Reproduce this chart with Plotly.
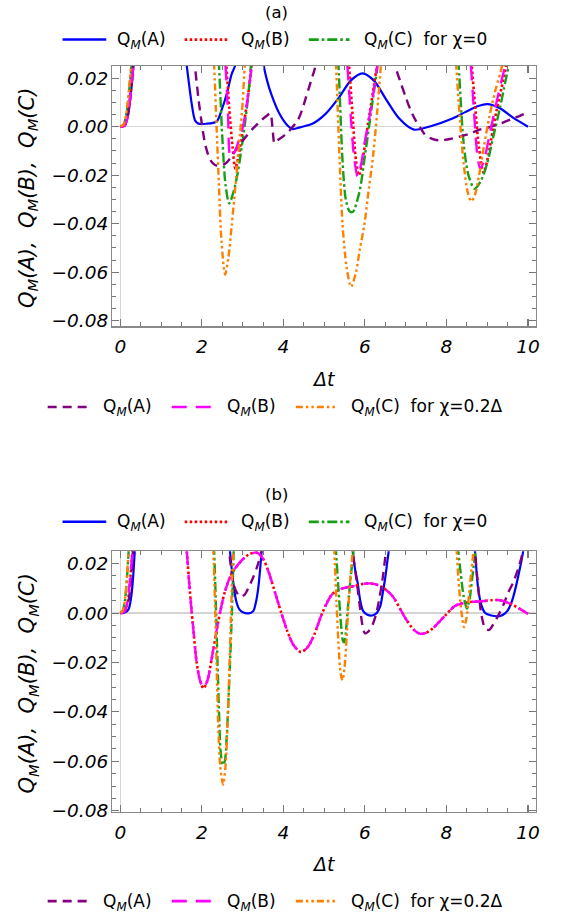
import plotly.graph_objects as go

# ---------------- data ----------------
x_ticks = [0, 2, 4, 6, 8, 10]
x_tick_text = ["0", "2", "4", "6", "8", "10"]
y_ticks = [-0.08, -0.06, -0.04, -0.02, 0.0, 0.02]
y_tick_text = ["\u22120.08", "\u22120.06", "\u22120.04", "\u22120.02", "0.00", "0.02"]

# ---- panel (a) ----
a_A0_t = [0, 0.1, 0.18, 0.26, 0.33, 0.37, None,
          1.55, 1.63, 1.75, 1.83, 1.91, 2.1, 2.36, 2.48, 2.61, 2.73, 2.81, 2.86, None,
          3.46, 3.52, 3.6, 3.7, 3.9, 4.1, 4.23, 4.4, 4.72, 5.04, 5.37, 5.65, 5.94, 6.22, 6.51,
          6.83, 7.2, 7.65, 8.13, 8.46, 8.78, 9.0, 9.31, 9.65, 10.0]
a_A0_q = [0, 0.0003, 0.004, 0.014, 0.027, 0.036, None,
          0.036, 0.025, 0.0095, 0.0027, 0.0013, 0.0012, 0.0021, 0.0067, 0.0135, 0.0217, 0.025, 0.034, None,
          0.035, 0.025, 0.019, 0.0135, 0.0054, 0.0005, -0.001, -0.0003, 0.0013, 0.0054, 0.0122, 0.019,
          0.022, 0.019, 0.0115, 0.0036, -0.0012, 0.0004, 0.0033, 0.006, 0.0085, 0.0093, 0.0076, 0.0035, 0.0]

a_B0_t = [0, 0.1, 0.18, 0.26, 0.33, 0.37, None,
          2.54, 2.6, 2.67, 2.75, 2.82, 2.9, 3.0, 3.1, 3.2, 3.25, None,
          5.55, 5.61, 5.7, 5.78, 5.85, 5.93, 6.02, 6.12, 6.22, 6.3, 6.35, None,
          8.56, 8.62, 8.7, 8.8, 8.91, 9.0, 9.1, 9.22, 9.35, 9.46, 9.5]
a_B0_q = [0, 0.0003, 0.0045, 0.015, 0.028, 0.036, None,
          0.035, 0.025, 0.008, -0.008, -0.0173, -0.012, -0.002, 0.009, 0.022, 0.031, None,
          0.035, 0.025, 0.004, -0.014, -0.020, -0.015, -0.005, 0.006, 0.017, 0.026, 0.034, None,
          0.035, 0.025, 0.009, -0.009, -0.019, -0.014, -0.005, 0.006, 0.016, 0.025, 0.033]

a_C0_t = [0, 0.08, 0.16, 0.24, 0.3, 0.33, None,
          2.38, 2.42, 2.5, 2.58, 2.67, 2.79, 2.89, 2.98, 3.07, 3.15, 3.2, 3.24, None,
          5.3, 5.35, 5.45, 5.53, 5.62, 5.7, 5.86, 6.0, 6.1, 6.2, 6.3, 6.35, None,
          8.26, 8.3, 8.42, 8.54, 8.69, 8.84, 8.99, 9.15, 9.31, 9.45, 9.52, 9.56]
a_C0_q = [0, 0.0008, 0.0065, 0.019, 0.03, 0.037, None,
          0.035, 0.025, -0.004, -0.024, -0.0316, -0.026, -0.018, -0.008, 0.003, 0.015, 0.025, 0.034, None,
          0.035, 0.025, -0.014, -0.030, -0.0348, -0.0352, -0.0273, -0.012, 0.0, 0.012, 0.024, 0.033, None,
          0.035, 0.025, -0.0066, -0.0201, -0.0256, -0.0225, -0.0156, -0.004, 0.0076, 0.019, 0.025, 0.033]

a_A02_t = [0, 0.1, 0.18, 0.26, 0.33, 0.37, None,
           1.78, 1.83, 1.92, 2.0, 2.08, 2.2, 2.32, 2.45, 2.58, 2.72, 2.88, 3.05, 3.25, 3.45, 3.6, 3.68,
           3.73, 3.78, 3.84, 3.95, 4.1, 4.23, 4.35, 4.45, 4.56, 4.68, 4.8, 4.84, None,
           6.7, 6.75, 6.88, 7.0, 7.12, 7.24, 7.36, 7.48, 7.65, 7.85, 8.05, 8.3, 8.55, 8.78, 9.0, 9.2,
           9.4, 9.6, 9.8, 10.0]
a_A02_q = [0, 0.0004, 0.0045, 0.015, 0.028, 0.036, None,
           0.035, 0.025, 0.011, 0.001, -0.0072, -0.0135, -0.0158, -0.016, -0.0152, -0.0125, -0.0085,
           -0.0048, -0.0008, 0.0025, 0.0046, 0.0055, 0.0, -0.0068, -0.0058, -0.0045, -0.0025, 0.0,
           0.0025, 0.0065, 0.0125, 0.019, 0.026, 0.034, None,
           0.035, 0.025, 0.018, 0.0122, 0.0068, 0.0027, -0.0005, -0.0034, -0.005, -0.0057, -0.0052,
           -0.0042, -0.003, -0.0014, -0.0004, 0.0005, 0.0018, 0.0032, 0.0045, 0.006]

a_B02_t = [0, 0.1, 0.18, 0.26, 0.33, 0.37, None,
           2.53, 2.58, 2.64, 2.7, 2.78, 2.86, 2.94, 3.02, 3.1, 3.2, 3.25, None,
           5.52, 5.57, 5.65, 5.73, 5.82, 5.9, 6.0, 6.1, 6.2, 6.3, 6.34, None,
           8.55, 8.6, 8.68, 8.76, 8.83, 8.92, 9.05, 9.2, 9.35, 9.45, 9.49]
a_B02_q = [0, 0.0003, 0.0045, 0.015, 0.028, 0.036, None,
           0.035, 0.025, 0.006, -0.0125, -0.011, -0.008, -0.004, 0.001, 0.009, 0.022, 0.031, None,
           0.035, 0.025, 0.005, -0.012, -0.0205, -0.016, -0.006, 0.003, 0.013, 0.025, 0.033, None,
           0.035, 0.025, 0.005, -0.012, -0.0175, -0.014, -0.004, 0.008, 0.019, 0.026, 0.033]

a_C02_t = [0, 0.08, 0.16, 0.23, 0.29, 0.32, None,
           2.26, 2.3, 2.36, 2.42, 2.48, 2.57, 2.65, 2.73, 2.82, 2.91, 3.0, 3.05, 3.09, None,
           5.25, 5.29, 5.37, 5.45, 5.55, 5.66, 5.78, 5.88, 5.98, 6.1, 6.2, 6.3, 6.39, 6.43, None,
           8.2, 8.24, 8.32, 8.42, 8.52, 8.61, 8.7, 8.8, 8.92, 9.05, 9.2, 9.36, 9.4]
a_C02_q = [0, 0.001, 0.007, 0.019, 0.03, 0.037, None,
           0.035, 0.025, 0.0, -0.025, -0.047, -0.061, -0.054, -0.041, -0.025, -0.008, 0.01, 0.025, 0.034, None,
           0.035, 0.025, -0.01, -0.04, -0.058, -0.066, -0.06, -0.05, -0.041, -0.025, -0.012, 0.006, 0.025, 0.033, None,
           0.035, 0.025, 0.005, -0.015, -0.027, -0.0308, -0.028, -0.02, -0.008, 0.004, 0.015, 0.025, 0.033]

# ---- panel (b) ----
b_A0_t = [0, 0.1, 0.2, 0.27, 0.32, 0.36, 0.39, None,
          2.64, 2.69, 2.77, 2.84, 2.92, 3.02, 3.15, 3.26, 3.32, 3.38, 3.43, 3.47, 3.5, None,
          5.65, 5.7, 5.76, 5.82, 5.88, 5.95, 6.06, 6.2, 6.3, 6.38, 6.44, 6.5, 6.55, 6.59, 6.62, None,
          8.65, 8.7, 8.77, 8.85, 8.95, 9.1, 9.25, 9.38, 9.5, 9.6, 9.7, 9.8, 9.88, 9.92]
b_A0_q = [0, 0.0001, 0.0015, 0.007, 0.016, 0.027, 0.036, None,
          0.035, 0.025, 0.0124, 0.005, 0.0015, 0.0002, -0.0001, 0.0008, 0.004, 0.0097, 0.018, 0.026, 0.034, None,
          0.035, 0.025, 0.0175, 0.0124, 0.0055, 0.001, -0.0007, -0.0009, 0.0002, 0.003, 0.0085, 0.0145, 0.021,
          0.026, 0.034, None,
          0.035, 0.025, 0.011, 0.0035, 0.0, -0.001, -0.0013, -0.0008, 0.001, 0.0045, 0.0105, 0.018, 0.025, 0.033]

b_B0_t = [0, 0.1, 0.18, 0.25, 0.31, 0.35, None,
          1.59, 1.63, 1.69, 1.75, 1.81, 1.87, 1.95, 2.04, 2.14, 2.24, 2.4, 2.56, 2.73, 2.97, 3.15, 3.34,
          3.5, 3.65, 3.8, 3.95, 4.1, 4.25, 4.43, 4.6, 4.75, 4.96, 5.2, 5.45, 5.7, 5.95, 6.1, 6.25, 6.43,
          6.67, 7.0, 7.2, 7.36, 7.5, 7.65, 7.97, 8.22, 8.54, 8.87, 9.1, 9.25, 9.4, 9.64, 9.82, 10.0]
b_B0_q = [0, 0.0004, 0.0045, 0.015, 0.027, 0.036, None,
          0.035, 0.025, 0.012, 0.0004, -0.01, -0.0198, -0.027, -0.0305, -0.027, -0.0185, -0.0036, 0.0084,
          0.0159, 0.0212, 0.0237, 0.0245, 0.022, 0.016, 0.008, 0.0, -0.0075, -0.013, -0.0158, -0.0137,
          -0.009, 0.0003, 0.0077, 0.0100, 0.0108, 0.0118, 0.0120, 0.0117, 0.0104, 0.007, -0.0023, -0.0068,
          -0.0084, -0.008, -0.0064, -0.001, 0.003, 0.0044, 0.0048, 0.0052, 0.0053, 0.0048, 0.0032, 0.0015,
          -0.0003]

b_C0_t = [0, 0.06, 0.12, 0.17, 0.21, 0.24, None,
          2.26, 2.3, 2.34, 2.38, 2.42, 2.46, 2.51, 2.56, 2.61, 2.66, 2.7, 2.74, 2.78, 2.8, None,
          5.26, 5.29, 5.35, 5.41, 5.46, 5.49, 5.53, 5.58, 5.63, 5.68, 5.72, 5.75, None,
          8.25, 8.29, 8.35, 8.42, 8.5, 8.57, 8.63, 8.69, 8.72, 8.74]
b_C0_q = [0, 0.001, 0.006, 0.016, 0.027, 0.036, None,
          0.035, 0.025, 0.005, -0.018, -0.04, -0.056, -0.0614, -0.06, -0.05, -0.032, -0.016, 0.002, 0.025,
          0.035, None,
          0.035, 0.025, 0.01, -0.004, -0.0112, -0.0118, -0.008, 0.002, 0.011, 0.019, 0.025, 0.034, None,
          0.035, 0.025, 0.016, 0.007, 0.0018, 0.006, 0.014, 0.022, 0.027, 0.034]

b_A02_t = [0, 0.13, 0.2, 0.25, 0.29, 0.32, 0.35, None,
           2.62, 2.67, 2.72, 2.77, 2.85, 2.95, 3.05, 3.15, 3.26, 3.36, 3.44, 3.48, 3.52, None,
           5.66, 5.7, 5.76, 5.82, 5.88, 5.94, 6.0, 6.08, 6.18, 6.28, 6.36, 6.43, 6.48, 6.52, 6.55, None,
           8.66, 8.7, 8.78, 8.86, 8.95, 9.05, 9.15, 9.27, 9.4, 9.52, 9.64, 9.76, 9.86, 9.9, 9.93]
b_A02_q = [0, 0.0017, 0.005, 0.011, 0.02, 0.028, 0.036, None,
           0.035, 0.025, 0.0175, 0.012, 0.0085, 0.0066, 0.0075, 0.0105, 0.0145, 0.019, 0.0235, 0.027, 0.034, None,
           0.035, 0.025, 0.0175, 0.01, 0.002, -0.005, -0.0082, -0.0075, -0.005, 0.0, 0.0065, 0.0135, 0.02,
           0.026, 0.034, None,
           0.035, 0.025, 0.01, -0.001, -0.0062, -0.0068, -0.0045, -0.001, 0.0035, 0.0085, 0.0125, 0.018, 0.024,
           0.03, 0.036]

b_B02_t = [0, 0.1, 0.18, 0.25, 0.31, 0.35, None,
           1.59, 1.63, 1.69, 1.75, 1.81, 1.87, 1.95, 2.04, 2.14, 2.24, 2.4, 2.56, 2.73, 2.97, 3.15, 3.34,
           3.5, 3.65, 3.8, 3.95, 4.1, 4.25, 4.43, 4.6, 4.75, 4.96, 5.2, 5.45, 5.7, 5.95, 6.1, 6.25, 6.43,
           6.67, 7.0, 7.2, 7.36, 7.5, 7.65, 7.97, 8.22, 8.54, 8.87, 9.1, 9.25, 9.4, 9.64, 9.82, 10.0]
b_B02_q = [0, 0.0005, 0.005, 0.016, 0.028, 0.036, None,
           0.035, 0.025, 0.012, 0.0004, -0.01, -0.0198, -0.027, -0.0305, -0.027, -0.0185, -0.0036, 0.0084,
           0.0159, 0.0212, 0.0237, 0.0245, 0.022, 0.016, 0.008, 0.0, -0.0075, -0.013, -0.0158, -0.0137,
           -0.009, 0.0003, 0.0077, 0.0100, 0.0108, 0.0118, 0.0120, 0.0117, 0.0104, 0.007, -0.0023, -0.0068,
           -0.0084, -0.008, -0.0064, -0.001, 0.003, 0.0044, 0.0048, 0.0052, 0.0053, 0.0048, 0.0032, 0.0015,
           -0.0003]

b_C02_t = [0, 0.06, 0.12, 0.17, 0.21, 0.24, None,
           2.24, 2.28, 2.32, 2.36, 2.4, 2.45, 2.52, 2.58, 2.63, 2.67, 2.71, 2.75, 2.77, 2.8, None,
           5.22, 5.25, 5.3, 5.35, 5.4, 5.45, 5.5, 5.55, 5.6, 5.65, 5.7, 5.73, None,
           8.21, 8.25, 8.31, 8.37, 8.43, 8.49, 8.55, 8.61, 8.66, 8.69]
b_C02_q = [0, 0.001, 0.0065, 0.017, 0.028, 0.037, None,
           0.035, 0.025, 0.005, -0.02, -0.045, -0.062, -0.0694, -0.062, -0.045, -0.025, -0.003, 0.018, 0.025,
           0.035, None,
           0.035, 0.025, 0.005, -0.012, -0.024, -0.0272, -0.022, -0.01, 0.004, 0.016, 0.025, 0.034, None,
           0.035, 0.025, 0.01, 0.0, -0.0057, -0.002, 0.007, 0.017, 0.025, 0.034]

legend_row1 = ["Q<sub><i>M</i></sub>(A)", "Q<sub><i>M</i></sub>(B)",
               "Q<sub><i>M</i></sub>(C)\u00a0\u00a0for \u03c7=0"]
legend_row2 = ["Q<sub><i>M</i></sub>(A)", "Q<sub><i>M</i></sub>(B)",
               "Q<sub><i>M</i></sub>(C)\u00a0\u00a0for \u03c7=0.2\u0394"]
panel_titles = ["(a)", "(b)"]

# ---------------- styles ----------------
W, H = 563, 924
FONT = "DejaVu Sans, Verdana, sans-serif"
STY = {
    "A0": dict(color="#0000ff", width=2.2, dash="solid"),
    "B0": dict(color="#ff0000", width=2.6, dash="2.5px,2.5px"),
    "C0": dict(color="#16a016", width=2.4, dash="10px,3px,2.5px,3px"),
    "A02": dict(color="#800080", width=2.4, dash="9px,6px"),
    "B02": dict(color="#ff00ff", width=2.4, dash="15px,9px"),
    "C02": dict(color="#ff8000", width=2.4, dash="7px,3px,2.5px,3px,2.5px,3px"),
}
ORDER = ["A0", "B0", "C0", "A02", "B02", "C02"]

panels = {
    "a": dict(xa="x", ya="y", data={
        "A0": (a_A0_t, a_A0_q), "B0": (a_B0_t, a_B0_q), "C0": (a_C0_t, a_C0_q),
        "A02": (a_A02_t, a_A02_q), "B02": (a_B02_t, a_B02_q), "C02": (a_C02_t, a_C02_q)}),
    "b": dict(xa="x2", ya="y2", data={
        "A0": (b_A0_t, b_A0_q), "B0": (b_B0_t, b_B0_q), "C0": (b_C0_t, b_C0_q),
        "A02": (b_A02_t, b_A02_q), "B02": (b_B02_t, b_B02_q), "C02": (b_C02_t, b_C02_q)}),
}

fig = go.Figure()
for key, p in panels.items():
    for s in ORDER:
        t, q = p["data"][s]
        fig.add_trace(go.Scatter(
            x=t, y=q, mode="lines", xaxis=p["xa"], yaxis=p["ya"],
            line=dict(shape="spline", smoothing=0.8, **STY[s]),
            connectgaps=False, showlegend=False, hoverinfo="skip"))


def px2x(p):
    return p / W


def px2y(p):
    return 1 - p / H


# layout geometry (page pixels of the reference)
X0, X1 = 113, 540
PANEL = {
    "a": dict(top=66.7, bot=329.5, yr=[-0.0823, 0.025], title_y=13, leg1_y=40, dt_y=383, leg2_y=411),
    "b": dict(top=556.7, bot=820.0, yr=[-0.0805, 0.025], title_y=499, leg1_y=527, dt_y=872, leg2_y=910),
}

axis_common = dict(
    showgrid=False, showline=True, linecolor="#8a8a8a", linewidth=1.3, mirror="allticks",
    ticks="inside", ticklen=7, tickwidth=1.1, tickcolor="#777777",
    zeroline=True, zerolinecolor="#d4d4d4", zerolinewidth=1.5,
    tickfont=dict(family=FONT, size=18.5, color="black", style="italic"),
)

lay = dict(width=W, height=H, margin=dict(l=0, r=0, t=0, b=0), autosize=False,
           paper_bgcolor="white", plot_bgcolor="white", showlegend=False)
for key, (xn, yn) in {"a": ("xaxis", "yaxis"), "b": ("xaxis2", "yaxis2")}.items():
    g = PANEL[key]
    lay[xn] = dict(axis_common, domain=[px2x(X0), px2x(X1)], range=[-0.2, 10.2],
                   anchor="y" if key == "a" else "y2",
                   tickvals=x_ticks, ticktext=x_tick_text, ticklabelstandoff=3,
                   minor=dict(dtick=0.5, tick0=0, ticks="inside", ticklen=4, tickcolor="#777777",
                              tickwidth=1, showgrid=False))
    lay[yn] = dict(axis_common, domain=[px2y(g["bot"]), px2y(g["top"])], range=g["yr"],
                   anchor="x" if key == "a" else "x2",
                   tickvals=y_ticks, ticktext=y_tick_text, ticklabelstandoff=-1,
                   minor=dict(dtick=0.005, tick0=0, ticks="inside", ticklen=4, tickcolor="#777777",
                              tickwidth=1, showgrid=False))
fig.update_layout(**lay)

annotations = []
shapes = []
leg1_samples = [(63, 107, "A0"), (186, 230, "B0"), (311, 352, "C0")]
leg1_text_x = [116, 241, 365]
leg2_samples = [(48, 93, "A02"), (173, 215, "B02"), (298, 339, "C02")]
leg2_text_x = [102, 227, 352]
LEG_SIZE = 17

for i, key in enumerate(["a", "b"]):
    g = PANEL[key]
    annotations.append(dict(text=panel_titles[i], xref="paper", yref="paper",
                            x=px2x(278.5), y=px2y(g["title_y"]), xanchor="center", yanchor="middle",
                            showarrow=False, font=dict(family=FONT, size=16.5, color="black")))
    annotations.append(dict(text="<i>\u0394t</i>", xref="paper", yref="paper",
                            x=px2x(326.5), y=px2y(g["dt_y"]), xanchor="center", yanchor="middle",
                            showarrow=False, font=dict(family=FONT, size=19, color="black")))
    annotations.append(dict(
        text="<i>Q<sub>M</sub>(A),\u00a0 Q<sub>M</sub>(B),\u00a0 Q<sub>M</sub>(C)</i>",
        xref="paper", yref="paper", x=px2x(28), y=px2y((g["top"] + g["bot"]) / 2 + 2),
        xanchor="center", yanchor="middle", textangle=-90, showarrow=False,
        font=dict(family=FONT, size=21, color="black")))
    for (x0, x1, s), tx, txt in zip(leg1_samples, leg1_text_x, legend_row1):
        st = STY[s]
        shapes.append(dict(type="line", xref="paper", yref="paper",
                           x0=px2x(x0), x1=px2x(x1), y0=px2y(g["leg1_y"]), y1=px2y(g["leg1_y"]),
                           line=dict(color=st["color"], width=st["width"] + 0.3, dash=st["dash"])))
        annotations.append(dict(text=txt, xref="paper", yref="paper", x=px2x(tx), y=px2y(g["leg1_y"] + 1),
                                xanchor="left", yanchor="middle", showarrow=False,
                                font=dict(family=FONT, size=LEG_SIZE, color="black")))
    for (x0, x1, s), tx, txt in zip(leg2_samples, leg2_text_x, legend_row2):
        st = STY[s]
        shapes.append(dict(type="line", xref="paper", yref="paper",
                           x0=px2x(x0), x1=px2x(x1), y0=px2y(g["leg2_y"]), y1=px2y(g["leg2_y"]),
                           line=dict(color=st["color"], width=st["width"] + 0.3, dash=st["dash"])))
        annotations.append(dict(text=txt, xref="paper", yref="paper", x=px2x(tx), y=px2y(g["leg2_y"] + 1),
                                xanchor="left", yanchor="middle", showarrow=False,
                                font=dict(family=FONT, size=LEG_SIZE, color="black")))

fig.update_layout(annotations=annotations, shapes=shapes)
fig.write_html("out.html", config={"displayModeBar": False, "staticPlot": True},
               post_script="document.body.style.margin='0';document.body.style.overflow='hidden';")
